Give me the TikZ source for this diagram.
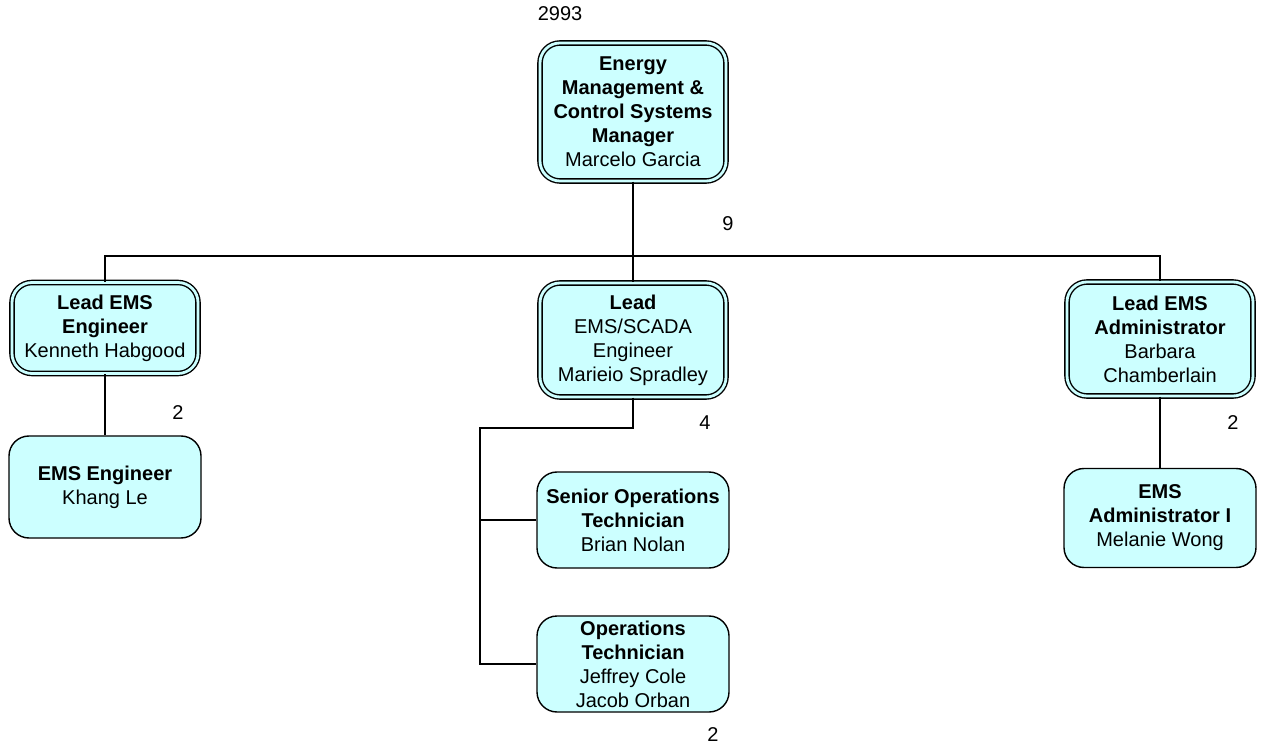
\documentclass[tikz,border=0pt]{standalone}
\usepackage{fontspec}
\setmainfont{Liberation Sans}
\usetikzlibrary{positioning}
\definecolor{boxcyan}{RGB}{204,255,255}

\begin{document}
\begin{tikzpicture}[x=0.5pt, y=-0.5pt,
        every node/.style={font=\fontsize{10}{12}\selectfont},
        post/.style={draw, line width=0.7pt, fill=boxcyan, rounded corners=10pt,
            align=center, inner sep=0pt, minimum width=96pt},
        lead/.style={post, double=boxcyan, double distance=1.4pt, minimum width=93pt},
        count/.style={inner sep=0pt}
    ]
        \useasboundingbox (0,0) rectangle (1261,747);

        % Boxes
        \node [lead, minimum height=69pt] (mgr) at (633,112)
            {\textbf{Energy}\\ \textbf{Management \&}\\ \textbf{Control Systems}\\ \textbf{Manager}\\ Marcelo Garcia};
        \node [lead, minimum height=45.5pt] (leadeng) at (105,328)
            {\textbf{Lead EMS}\\ \textbf{Engineer}\\ Kenneth Habgood};
        \node [lead, minimum height=57pt] (leadscada) at (633,340)
            {\textbf{Lead}\\ EMS/SCADA\\ Engineer\\ Marieio Spradley};
        \node [lead, minimum height=57pt] (leadadm) at (1160,339)
            {\textbf{Lead EMS}\\ \textbf{Administrator}\\ Barbara\\ Chamberlain};
        \node [post, minimum height=51pt] (emseng) at (105,487)
            {\textbf{EMS Engineer}\\ Khang Le};
        \node [post, minimum height=48pt] (seniorops) at (633,520)
            {\textbf{Senior Operations}\\ \textbf{Technician}\\ Brian Nolan};
        \node [post, minimum height=48pt] (ops) at (633,664)
            {\textbf{Operations}\\ \textbf{Technician}\\ Jeffrey Cole\\ Jacob Orban};
        \node [post, minimum height=49.5pt] (emsadm) at (1160,518)
            {\textbf{EMS}\\ \textbf{Administrator I}\\ Melanie Wong};

        % Counts
        \node [count] (n2993) at (560,14) {2993};
        \node [count] (n9) at (728,224) {9};
        \node [count] (n2a) at (178,413) {2};
        \node [count] (n4) at (705,423) {4};
        \node [count] (n2b) at (1233,423) {2};
        \node [count] (n2c) at (713,735) {2};

        % Lines
        \coordinate (bus) at (633,256);
        \coordinate (trunk) at (480,428);
        \draw [line width=0.7pt] (mgr.south) -- (leadscada.north);
        \draw [line width=0.7pt] (leadeng.north) |- (bus) -| (leadadm.north);
        \draw [line width=0.7pt] (leadeng.south) -- (emseng.north);
        \draw [line width=0.7pt] (leadadm.south) -- (emsadm.north);
        \draw [line width=0.7pt] (leadscada.south) |- (trunk) |- (ops.west);
        \draw [line width=0.7pt] (seniorops.west) -- (seniorops.west -| trunk);
    \end{tikzpicture}
\end{document}
